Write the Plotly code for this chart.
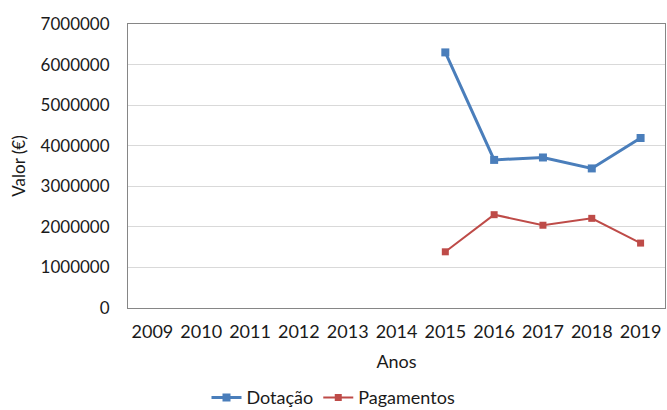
import plotly.graph_objects as go

anos = ["2009", "2010", "2011", "2012", "2013", "2014", "2015", "2016", "2017", "2018", "2019"]
dotacao = [None, None, None, None, None, None, 6300000, 3650000, 3710000, 3440000, 4190000]
pagamentos = [None, None, None, None, None, None, 1385000, 2300000, 2040000, 2210000, 1600000]

FONT = "Lato"
TXT = "#1a1a1a"

fig = go.Figure()
fig.add_trace(go.Scatter(
    x=anos, y=dotacao, name="Dotação", mode="lines+markers",
    line=dict(color="#4A7EBB", width=3),
    marker=dict(symbol="square", size=8, color="#4A7EBB"),
))
fig.add_trace(go.Scatter(
    x=anos, y=pagamentos, name="Pagamentos", mode="lines+markers",
    line=dict(color="#BE4B48", width=2),
    marker=dict(symbol="square", size=7, color="#BE4B48"),
))

fig.update_layout(
    width=667, height=410,
    margin=dict(l=128, r=2, t=24, b=102),
    paper_bgcolor="white", plot_bgcolor="white",
    font=dict(family=FONT, size=17, color=TXT),
    showlegend=True,
    legend=dict(
        orientation="h", xref="container", yref="container",
        x=0.5, xanchor="center", y=0.03, yanchor="middle",
        font=dict(size=18), itemwidth=30, tracegroupgap=0,
    ),
)
fig.update_xaxes(
    type="category", range=[-0.5, 10.5],
    showgrid=False, showline=True, linecolor="#868686", linewidth=1,
    mirror=True, ticks="", ticklabelstandoff=7,
    tickfont=dict(size=18),
    title=dict(text="Anos", font=dict(size=18), standoff=14),
)
fig.update_yaxes(
    range=[0, 7000000], dtick=1000000, tickformat="d",
    showgrid=True, gridcolor="#D9D9D9", gridwidth=1,
    showline=True, linecolor="#868686", linewidth=1, mirror=True,
    zeroline=False, ticks="", ticklabelstandoff=14,
    tickfont=dict(size=17),
    title=dict(text="Valor (€)", font=dict(size=17), standoff=10),
)

fig.write_html("out.html")
